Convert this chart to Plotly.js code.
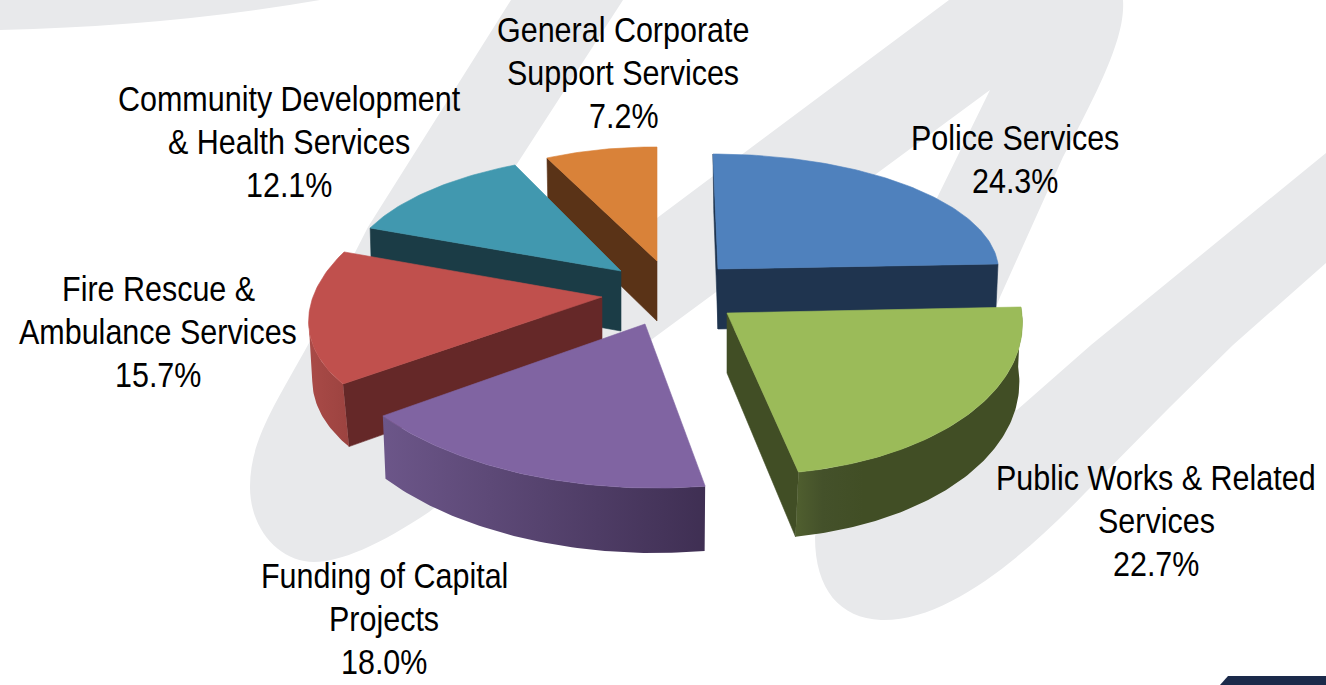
<!DOCTYPE html>
<html>
<head>
<meta charset="utf-8">
<script src="https://cdn.plot.ly/plotly-3.0.1.min.js"></script>
<style>
html,body{margin:0;padding:0;background:#fff;overflow:hidden}
#chart{width:1326px;height:685px}
text.annotation-text{transform-box:fill-box;transform-origin:center;transform:scaleX(.847)}
</style>
</head>
<body>
<div id="chart"></div>
<script>
// ---- data ----
const categories = [
  ["Police Services"],
  ["Public Works & Related", "Services"],
  ["Funding of Capital", "Projects"],
  ["Fire Rescue &", "Ambulance Services"],
  ["Community Development", "& Health Services"],
  ["General Corporate", "Support Services"]
];
const shares = [24.3, 22.7, 18.0, 15.7, 12.1, 7.2];

// ---- styling ----
const topColors  = ["#4f81bd", "#9bbb59", "#8064a2", "#c0504d", "#4198af", "#d98239"];
const sideColors = ["#1f344f", "#414e25", "#3f2f53", "#652828", "#1b3c46", "#5a3317"];
const arcWallGradients = [
  null,
  [[0, "#505f2f"], [0.12, "#44512a"], [0.3, "#414e25"], [1, "#414e25"]],
  [[0, "#6c5689"], [1, "#3f2f53"]],
  [[0, "#a94a47"], [1, "#9c4340"]],
  null,
  null
];
// which slice edges (0 = first edge, 1 = last edge) show a flat cut wall
const cutWalls = [[0, 1], [1], [], [0], [0], [0]];
// how far round each slice the curved outer wall stays in view (share of slice)
const arcWallSpan = [0, 1, 1, 0.5, 0, 0];
const paintOrder = [5, 4, 3, 2, 0, 1];

// ---- placement of the tilted, exploded pie: one projection per slice ----
const sliceCentreX = [718, 727, 645, 602, 621, 657];
const sliceCentreY = [269, 313, 324, 297, 271, 261];
const axisAX = [280.5, 295, 323.7, 290.6, 273.5, 251.7];
const axisAY = [0, 1.1, 5.5, -4.8, 2.2, 1.1];
const axisBX = [5, 16.5, -0.5, -40.7, -15.1, 0];
const axisBY = [115, 161.7, 164, 141.4, 116.8, 114];
const pieDepth = 60, baseScaleA = 0.99, baseScaleB = 0.85, baseScaleY = 1.03;

const labelX = [1015, 1156, 384, 158, 289, 623];
const labelY = [159, 521, 619, 332, 142, 73];
const linePitch = 43;

const total = shares.reduce((a, b) => a + b, 0);
const bounds = [0];
shares.forEach(v => bounds.push(bounds[bounds.length - 1] + v / total * 360));

function project(i, deg, onBase) {
  const t = deg * Math.PI / 180, s = Math.sin(t), c = -Math.cos(t);
  const dy = axisAY[i] * s + axisBY[i] * c;
  if (onBase) {
    const bx = baseScaleA * axisAX[i] * s + baseScaleB * axisBX[i] * c;
    return [sliceCentreX[i] + bx, sliceCentreY[i] + pieDepth + baseScaleY * dy];
  }
  return [sliceCentreX[i] + axisAX[i] * s + axisBX[i] * c, sliceCentreY[i] + dy];
}
function arc(i, from, to, onBase) {
  const n = Math.max(2, Math.ceil(Math.abs(to - from)));
  const out = [];
  for (let k = 0; k <= n; k++) out.push(project(i, from + (to - from) * k / n, onBase));
  return out;
}
function face(points, color, gradient) {
  const tr = {
    type: "scatter", mode: "lines", fill: "toself",
    x: points.map(p => p[0]), y: points.map(p => p[1]),
    line: {width: 0.6, color: color},
    hoverinfo: "skip", showlegend: false
  };
  if (gradient) {
    tr.fillgradient = {type: "horizontal", colorscale: gradient};
    tr.line = {width: 0};
  } else {
    tr.fillcolor = color;
  }
  return tr;
}

const traces = [];
paintOrder.forEach(i => {
  const a0 = bounds[i], a1 = bounds[i + 1];
  const apexTop = [sliceCentreX[i], sliceCentreY[i]];
  const apexBase = [sliceCentreX[i], sliceCentreY[i] + pieDepth];
  cutWalls[i].forEach(edge => {
    const a = edge === 0 ? a0 : a1;
    const p = [apexTop, project(i, a, false), project(i, a, true), apexBase, apexTop];
    traces.push(face(p, sideColors[i]));
  });
  if (arcWallSpan[i] > 0) {
    const end = a0 + (a1 - a0) * arcWallSpan[i];
    const p = arc(i, a0, end, false).concat(arc(i, end, a0, true));
    p.push(p[0]);
    traces.push(face(p, sideColors[i], arcWallGradients[i]));
  }
  const top = [apexTop].concat(arc(i, a0, a1, false));
  top.push(apexTop);
  traces.push(face(top, topColors[i]));
});

const annotations = [];
categories.forEach((lines, i) => {
  const all = lines.concat(shares[i].toFixed(1) + "%");
  all.forEach((txt, k) => annotations.push({
    x: labelX[i], y: labelY[i] + (k - (all.length - 1) / 2) * linePitch, xref: "x", yref: "y",
    text: txt, showarrow: false, xanchor: "center", yanchor: "middle", align: "center",
    font: {family: "'Liberation Sans', Arial, sans-serif", size: 36, color: "#000"}
  }));
});

const gray = "#e8e9eb";
const shapes = [
  {type: "path", layer: "below", line: {width: 0}, fillcolor: gray,
   path: "M0,0 L320,0 Q170,26 0,30 Z"},
  {type: "path", layer: "below", line: {width: 0}, fillcolor: gray,
   path: "M511,0 L623,0 L515,167 L580,262 L657,218 L949,0 L1123,0 C1125,30 1110,70 1063,157 L1000,297 L960,400 L1017,410 L1091,345 L1326,153 L1326,263 L1233,345 L1170,407 L1085,493 C1030,550 950,622 881,620 C840,618 815,590 815,537 L860,310 L936,200 L990,90 L872,177 L655,337 L429,512 C380,545 340,562 314,562 C280,562 250,530 250,487 C250,440 275,405 309,343 L368,227 Z"},
  {type: "path", layer: "above", line: {width: 0}, fillcolor: "#1b2a4a",
   path: "M1228,676 L1326,676 L1326,685 L1220,685 Z"}
];

Plotly.newPlot("chart", traces, {
  width: 1326, height: 685,
  margin: {l: 0, r: 0, t: 0, b: 0},
  paper_bgcolor: "#ffffff", plot_bgcolor: "#ffffff",
  xaxis: {range: [0, 1326], visible: false, fixedrange: true},
  yaxis: {range: [685, 0], visible: false, fixedrange: true},
  showlegend: false, annotations: annotations, shapes: shapes
}, {displayModeBar: false, staticPlot: true});
</script>
</body>
</html>
